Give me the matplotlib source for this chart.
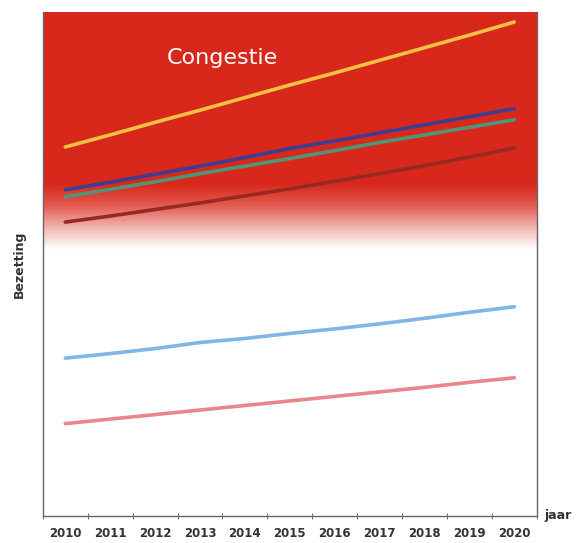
import numpy as np
import matplotlib
matplotlib.use("Agg")
import matplotlib.pyplot as plt
from matplotlib.colors import LinearSegmentedColormap

years = ["2010", "2011", "2012", "2013", "2014", "2015", "2016", "2017", "2018", "2019", "2020"]
yellow = [73.2, 75.6, 78.1, 80.5, 83.0, 85.5, 87.9, 90.4, 92.9, 95.4, 98.0]
blue = [64.7, 66.2, 67.8, 69.4, 71.1, 72.9, 74.4, 76.0, 77.6, 79.2, 80.8]
green = [63.3, 64.8, 66.3, 67.9, 69.4, 70.9, 72.5, 74.1, 75.6, 77.1, 78.6]
brown = [58.3, 59.5, 60.8, 62.1, 63.5, 64.9, 66.4, 67.9, 69.5, 71.2, 73.0]
light_blue = [31.3, 32.2, 33.2, 34.4, 35.2, 36.2, 37.1, 38.1, 39.2, 40.4, 41.5]
pink = [18.3, 19.2, 20.1, 21.0, 21.9, 22.8, 23.7, 24.6, 25.5, 26.5, 27.4]

series = [
    (yellow, "#f4c140"),
    (blue, "#3d3d92"),
    (green, "#4f9676"),
    (brown, "#962a22"),
    (light_blue, "#80b6e6"),
    (pink, "#e8868c"),
]

fig = plt.figure(figsize=(5.79, 5.43), dpi=100)
ax = fig.add_axes([0.074, 0.05, 0.853, 0.928])
x = np.arange(len(years))
ax.set_xlim(-0.5, len(years) - 0.5)
ax.set_ylim(0, 100)

# congestion band: solid red on top, fading to white
red = "#d8271b"
cmap = LinearSegmentedColormap.from_list("fade", ["white", "#f0b4b0", "#e35a50", red])
grad = np.clip((np.linspace(0, 100, 400) - 53) / (66 - 53), 0, 1).reshape(-1, 1)
ax.imshow(grad, cmap=cmap, aspect="auto", origin="lower",
          extent=(-0.5, len(years) - 0.5, 0, 100), vmin=0, vmax=1, zorder=0)

for vals, col in series:
    ax.plot(x, vals, color=col, lw=2.6, solid_capstyle="round", zorder=3)

ax.text(3.5, 90.8, "Congestie", color="white", fontsize=16, ha="center", va="center")

ax.set_xticks(x)
ax.set_xticklabels(years, fontsize=8.5, fontweight="bold", color="#333333")
ax.tick_params(axis="x", which="major", length=0, pad=8)
ax.set_xticks(np.arange(-0.5, len(years)), minor=True)
ax.tick_params(axis="x", which="minor", length=5, direction="inout", color="#555555")
ax.set_yticks([])
ax.set_ylabel("Bezetting", fontsize=9, fontweight="bold", color="#333333", labelpad=12)
ax.text(1.015, 0.0, "jaar", transform=ax.transAxes, fontsize=9, fontweight="bold",
        color="#333333", ha="left", va="center")

for s in ax.spines.values():
    s.set_color("#666666")
    s.set_linewidth(1)
ax.spines["top"].set_visible(False)

fig.savefig("out.png", dpi=100)
